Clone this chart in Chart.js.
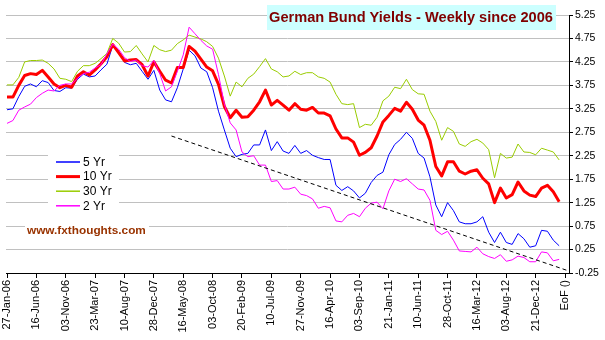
<!DOCTYPE html>
<html>
<head>
<meta charset="utf-8">
<script src="https://cdn.jsdelivr.net/npm/chart.js@4"></script>
<style>
  html, body { margin: 0; padding: 0; background: #fff; }
  #chart { display: block; }
</style>
</head>
<body>
<canvas id="chart" width="605" height="340"></canvas>
<script>
// weekly data, one value every 4 weeks starting 27-Jan-06
const dateLabels = ["27-Jan-06", "16-Jun-06", "03-Nov-06", "23-Mar-07", "10-Aug-07", "28-Dec-07", "16-May-08",
    "03-Oct-08", "20-Feb-09", "10-Jul-09", "27-Nov-09", "16-Apr-10", "03-Sep-10", "21-Jan-11", "10-Jun-11",
    "28-Oct-11", "16-Mar-12", "03-Aug-12", "21-Dec-12", "EoF ()"];

const yr5 = [3.23, 3.25, 3.51, 3.73, 3.78, 3.72, 3.85, 3.81, 3.64, 3.62,
    3.70, 3.69, 3.88, 3.99, 3.93, 3.95, 4.08, 4.20, 4.60, 4.48,
    4.24, 4.19, 4.22, 4.05, 3.88, 4.07, 3.65, 3.44, 3.40, 3.70,
    4.10, 4.50, 4.38, 4.12, 4.04, 3.70, 3.20, 2.80, 2.41, 2.23,
    2.28, 2.30, 2.48, 2.48, 2.80, 2.36, 2.55, 2.35, 2.30, 2.47,
    2.30, 2.36, 2.26, 2.21, 2.17, 2.17, 1.62, 1.51, 1.59, 1.50,
    1.35, 1.45, 1.68, 1.83, 1.90, 2.27, 2.49, 2.60, 2.75, 2.62,
    2.30, 2.20, 1.80, 1.20, 0.95, 1.25, 1.08, 0.84, 0.80, 0.80,
    0.84, 0.95, 0.62, 0.40, 0.62, 0.40, 0.36, 0.59, 0.48, 0.30,
    0.33, 0.66, 0.64, 0.45, 0.33];

const yr10 = [3.50, 3.50, 3.75, 3.96, 4.00, 3.98, 4.07, 3.93, 3.78, 3.70,
    3.75, 3.71, 3.95, 4.04, 3.97, 4.08, 4.21, 4.36, 4.62, 4.45,
    4.27, 4.29, 4.30, 4.19, 3.95, 4.25, 4.05, 3.86, 3.80, 4.13,
    4.13, 4.58, 4.48, 4.31, 4.14, 4.06, 3.77, 3.30, 3.06, 3.22,
    3.07, 3.08, 3.22, 3.40, 3.65, 3.33, 3.43, 3.33, 3.22, 3.36,
    3.24, 3.22, 3.28, 3.16, 3.16, 3.10, 2.82, 2.63, 2.63, 2.54,
    2.26, 2.32, 2.42, 2.67, 2.97, 3.11, 3.26, 3.20, 3.39, 3.24,
    3.01, 2.90, 2.58, 2.02, 1.82, 2.12, 2.12, 1.92, 1.86, 1.92,
    1.95, 1.77, 1.65, 1.25, 1.56, 1.35, 1.42, 1.69, 1.50, 1.41,
    1.38, 1.56, 1.62, 1.48, 1.27];

const yr30 = [3.76, 3.76, 3.92, 4.25, 4.28, 4.28, 4.29, 4.22, 4.10, 3.90,
    3.88, 3.83, 4.05, 4.17, 4.17, 4.22, 4.32, 4.43, 4.75, 4.65,
    4.46, 4.47, 4.60, 4.42, 4.25, 4.60, 4.51, 4.47, 4.50, 4.64,
    4.72, 4.82, 4.78, 4.74, 4.68, 4.58, 4.33, 3.95, 3.52, 3.82,
    3.72, 3.90, 3.99, 4.15, 4.32, 4.10, 4.04, 3.93, 3.95, 4.05,
    3.98, 4.02, 4.02, 3.93, 3.90, 3.82, 3.56, 3.36, 3.34, 3.36,
    2.85, 2.92, 2.90, 3.07, 3.42, 3.52, 3.71, 3.68, 3.88, 3.66,
    3.57, 3.56, 3.20, 2.98, 2.58, 2.85, 2.77, 2.50, 2.45, 2.55,
    2.60, 2.52, 2.38, 1.78, 2.30, 2.20, 2.22, 2.50, 2.33, 2.32,
    2.27, 2.41, 2.37, 2.33, 2.16];

const yr2 = [2.94, 3.00, 3.22, 3.29, 3.35, 3.49, 3.58, 3.65, 3.63, 3.75,
    3.78, 3.78, 3.90, 4.00, 4.03, 4.12, 4.19, 4.42, 4.63, 4.52,
    4.34, 4.26, 4.29, 4.17, 4.14, 4.28, 4.00, 3.63, 3.72, 4.05,
    4.40, 4.99, 4.85, 4.71, 4.59, 4.52, 3.98, 3.35, 2.95, 2.80,
    2.33, 2.23, 2.25, 2.05, 2.05, 1.70, 1.72, 1.54, 1.54, 1.58,
    1.43, 1.40, 1.33, 1.13, 1.17, 1.14, 0.86, 0.84, 0.98, 1.02,
    0.95, 1.13, 1.24, 1.26, 1.12, 1.50, 1.75, 1.70, 1.76, 1.65,
    1.54, 1.52, 1.30, 0.66, 0.57, 0.64, 0.45, 0.22, 0.21, 0.20,
    0.30, 0.16, 0.10, 0.06, 0.14, 0.00, 0.03, 0.11, 0.08, -0.01,
    -0.01, 0.20, 0.18, 0.01, 0.04];

// dashed trend line (week number, yield)
const trendWeeks = [112, 381];
const trendYields = [2.67, -0.19];

const titleText = "German Bund Yields - Weekly since 2006";
const siteText = "www.fxthoughts.com";

const FONT = '"Liberation Sans", Arial, sans-serif';

function toPoints(arr) {
    return arr.map((v, i) => ({ x: i * 4, y: v }));
}

const series = [
    { label: "5 Yr", data: toPoints(yr5), borderColor: "#0000ff", borderWidth: 1, order: 4 },
    { label: "10 Yr", data: toPoints(yr10), borderColor: "#ff0000", borderWidth: 3, order: 3 },
    { label: "30 Yr", data: toPoints(yr30), borderColor: "#99cc00", borderWidth: 1, order: 2 },
    { label: "2 Yr", data: toPoints(yr2), borderColor: "#ff00ff", borderWidth: 1, order: 1 },
    {
        label: "trend",
        data: trendWeeks.map((w, i) => ({ x: w, y: trendYields[i] })),
        borderColor: "#000000", borderWidth: 1, borderDash: [4, 3], order: 0
    }
];

// title box, legend and site name, drawn over the grid
const decor = {
    id: "decor",
    beforeDatasetsDraw(chart) {
        const c = chart.ctx;
        c.save();
        c.fillStyle = "#ccffff";
        c.fillRect(267, 5, 289, 25);
        c.fillStyle = "#800000";
        c.font = "bold 14.6px " + FONT;
        c.textAlign = "center";
        c.textBaseline = "middle";
        c.fillText(titleText, 411, 17.5);

        // legend
        c.fillStyle = "#ffffff";
        c.fillRect(48, 154, 71, 58);
        c.textAlign = "left";
        c.font = "12px " + FONT;
        series.slice(0, 4).forEach((s, i) => {
            const y = 162 + i * 14.6;
            c.strokeStyle = s.borderColor;
            c.lineWidth = s.borderWidth === 3 ? 3 : 1.5;
            c.beginPath();
            c.moveTo(56, y);
            c.lineTo(80, y);
            c.stroke();
            c.fillStyle = "#000";
            c.fillText(s.label, 83, y + 0.5);
        });

        // site name
        c.fillStyle = "#ffffff";
        c.fillRect(25, 222, 124, 17);
        c.fillStyle = "#993300";
        c.font = "bold 11.8px " + FONT;
        c.fillText(siteText, 27, 231);
        c.restore();
    }
};

const ctx = document.querySelector("#chart").getContext("2d");
const myChart = new Chart(ctx, {
    type: "line",
    data: { datasets: series },
    options: {
        responsive: false,
        animation: false,
        events: [],
        elements: {
            point: { radius: 0 },
            line: { tension: 0, fill: false, borderJoinStyle: "round" }
        },
        layout: { padding: { left: 6, top: 15, right: 0, bottom: 0 } },
        plugins: {
            legend: { display: false },
            tooltip: { enabled: false },
            title: { display: false }
        },
        scales: {
            x: {
                type: "linear",
                min: -0.7,
                max: 382.7,
                afterBuildTicks: (scale) => {
                    scale.ticks = dateLabels.map((_, i) => ({ value: i * 20 }));
                },
                afterFit: (scale) => {
                    scale.height = 67;
                    scale.paddingLeft = 0;
                    scale.paddingRight = 0;
                },
                ticks: {
                    autoSkip: false,
                    minRotation: 90,
                    maxRotation: 90,
                    padding: 2,
                    color: "#000",
                    font: { family: FONT, size: 11 },
                    callback: (v, i) => dateLabels[i]
                },
                grid: { drawOnChartArea: false, color: "#000", tickLength: 5 },
                border: { color: "#000", width: 1 }
            },
            y: {
                position: "right",
                min: -0.25,
                max: 5.25,
                afterFit: (scale) => {
                    scale.width = 36;
                    scale.paddingTop = 0;
                    scale.paddingBottom = 0;
                },
                ticks: {
                    stepSize: 0.5,
                    padding: 2,
                    color: "#000",
                    font: { family: FONT, size: 10.5 },
                    callback: (v) => v.toFixed(2)
                },
                grid: { color: "#c0c0c0", tickColor: "#000", tickLength: 4 },
                border: { color: "#000", width: 1 }
            }
        }
    },
    plugins: [decor]
});
</script>
</body>
</html>
